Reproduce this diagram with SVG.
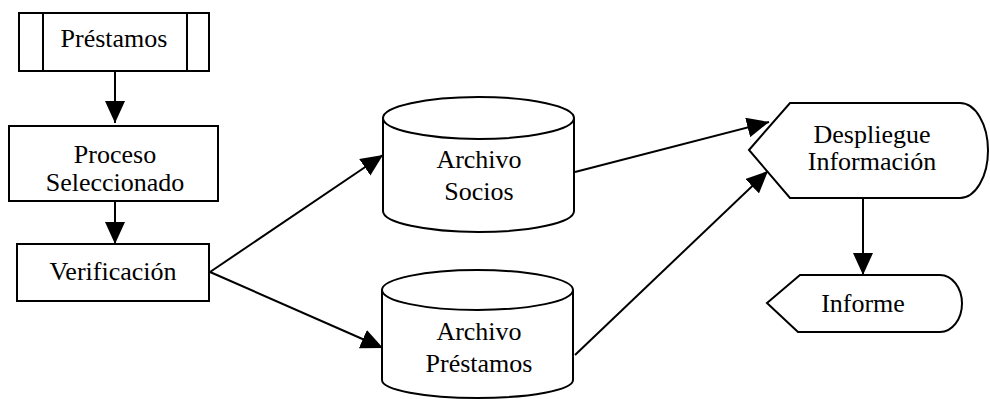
<svg xmlns="http://www.w3.org/2000/svg" width="990" height="399" viewBox="0 0 990 399">
<style>
.s{fill:#fff;stroke:#000;stroke-width:2}
.t{font-family:"Liberation Serif","Times New Roman",serif;font-size:26px;fill:#000;text-anchor:middle}
.c{fill:none;stroke:#000;stroke-width:2}
</style>
<defs>
<marker id="a" markerUnits="userSpaceOnUse" markerWidth="22" markerHeight="20" refX="22" refY="10" orient="auto">
<path d="M0,0 L22,10 L0,20 z" fill="#000"/>
</marker>
</defs>
<rect width="990" height="399" fill="#fff"/>
<g id="connectors">
<line class="c" x1="115" y1="71" x2="115" y2="123" marker-end="url(#a)"/>
<line class="c" x1="115" y1="201" x2="115" y2="244" marker-end="url(#a)"/>
<line class="c" x1="210" y1="272" x2="383" y2="155" marker-end="url(#a)"/>
<line class="c" x1="210" y1="272" x2="383" y2="348" marker-end="url(#a)"/>
<line class="c" x1="575" y1="172" x2="769" y2="122" marker-end="url(#a)"/>
<line class="c" x1="575" y1="355" x2="768" y2="171" marker-end="url(#a)"/>
<line class="c" x1="863" y1="198" x2="863" y2="275" marker-end="url(#a)"/>
</g>
<g id="prestamos">
<rect class="s" x="19" y="13" width="190" height="58"/>
<line class="c" x1="43" y1="13" x2="43" y2="71"/>
<line class="c" x1="187" y1="13" x2="187" y2="71"/>
<text class="t" x="114" y="47">Préstamos</text>
</g>
<g id="proceso">
<rect class="s" x="9" y="126" width="209" height="75"/>
<text class="t" x="115" y="163">Proceso</text>
<text class="t" x="115" y="191">Seleccionado</text>
</g>
<g id="verificacion">
<rect class="s" x="17" y="244" width="192" height="57"/>
<text class="t" x="113" y="280">Verificación</text>
</g>
<g id="archivo-socios">
<path class="s" d="M383,118 L383,211 A95.5,21 0 0 0 574,211 L574,118"/>
<ellipse class="s" cx="478.5" cy="118" rx="95.5" ry="21"/>
<text class="t" x="479" y="168">Archivo</text>
<text class="t" x="479" y="200">Socios</text>
</g>
<g id="archivo-prestamos">
<path class="s" d="M382,290 L382,380 A95.5,18 0 0 0 573,380 L573,290"/>
<ellipse class="s" cx="477.5" cy="290" rx="95.5" ry="20"/>
<text class="t" x="479" y="340">Archivo</text>
<text class="t" x="479" y="372">Préstamos</text>
</g>
<g id="despliegue">
<path class="s" d="M749,150 L790,103 L960,103 A28,47.5 0 0 1 960,198 L790,198 Z"/>
<text class="t" x="872" y="143">Despliegue</text>
<text class="t" x="872" y="170">Información</text>
</g>
<g id="informe">
<path class="s" d="M767,303 L800,275 L940,275 A22,28.5 0 0 1 940,332 L798,332 Z"/>
<text class="t" x="863" y="312">Informe</text>
</g>
</svg>
